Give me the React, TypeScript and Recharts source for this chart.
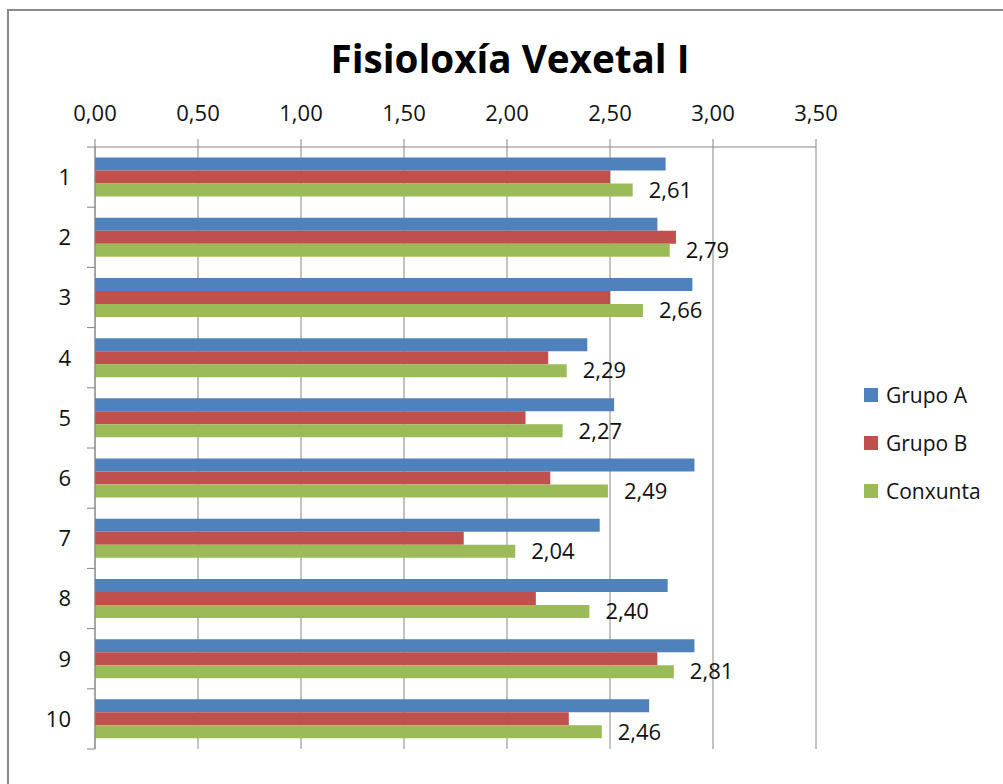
import React from 'react';
import {
  BarChart,
  Bar,
  XAxis,
  YAxis,
  CartesianGrid,
  Legend,
  LabelList,
  Customized,
} from 'recharts';

const categories = ['1', '2', '3', '4', '5', '6', '7', '8', '9', '10'];
const grupoA = [2.77, 2.73, 2.9, 2.39, 2.52, 2.91, 2.45, 2.78, 2.91, 2.69];
const grupoB = [2.5, 2.82, 2.5, 2.2, 2.09, 2.21, 1.79, 2.14, 2.73, 2.3];
const conxunta = [2.61, 2.79, 2.66, 2.29, 2.27, 2.49, 2.04, 2.4, 2.81, 2.46];
const xTicks = [0, 0.5, 1, 1.5, 2, 2.5, 3, 3.5];

const seriesNames = ['Grupo A', 'Grupo B', 'Conxunta'];

const data = categories.map((cat, i) => ({
  cat,
  a: grupoA[i],
  b: grupoB[i],
  c: conxunta[i],
}));

const FONT = '"Open Sans", "Noto Sans", sans-serif';
const AXIS_GREY = '#868686';

const fmt = (v: any) => Number(v).toFixed(2).replace('.', ',');

// category label plus the little tick marks between categories (Excel style)
function CategoryTick(props: any) {
  const { x, y, payload, index } = props;
  const half = payload?.offset ?? 30.1;
  const axisX = x + 24;
  return (
    <g>
      <text
        x={x}
        y={y}
        dy="0.36em"
        textAnchor="end"
        fontSize={22}
        fontFamily={FONT}
        fill="#111"
      >
        {payload.value}
      </text>
      {index === 0 && (
        <line x1={axisX - 8} x2={axisX} y1={y - half} y2={y - half} stroke={AXIS_GREY} />
      )}
      <line x1={axisX - 8} x2={axisX} y1={y + half} y2={y + half} stroke={AXIS_GREY} />
    </g>
  );
}

function LegendBox(props: any) {
  const items = [...(props.payload || [])].sort(
    (p: any, q: any) => seriesNames.indexOf(p.value) - seriesNames.indexOf(q.value)
  );
  return (
    <div style={{ fontFamily: FONT }}>
      {items.map((entry: any) => (
        <div
          key={entry.value}
          style={{ height: 48, display: 'flex', alignItems: 'center' }}
        >
          <span
            style={{
              width: 14,
              height: 14,
              background: entry.color,
              display: 'inline-block',
              marginRight: 8,
            }}
          />
          <span style={{ fontSize: 21, color: '#111' }}>{entry.value}</span>
        </div>
      ))}
    </div>
  );
}

const Title = () => (
  <text
    x={510}
    y={73}
    textAnchor="middle"
    fontSize={39}
    fontWeight="bold"
    fontFamily={FONT}
    fill="#000"
    textLength={359}
    lengthAdjust="spacingAndGlyphs"
  >
    Fisioloxía Vexetal I
  </text>
);

export default function App() {
  return (
    <div
      style={{
        position: 'absolute',
        left: 0,
        top: 0,
        width: 1003,
        height: 784,
        overflow: 'hidden',
        background: '#fff',
      }}
    >
      <div
        style={{
          position: 'absolute',
          left: 7,
          top: 9,
          width: 1020,
          height: 800,
          border: '2px solid #8a8a8a',
          boxShadow: '1px 1px 2px rgba(0,0,0,0.25)',
        }}
      />
      <div style={{ position: 'absolute', left: 0, top: 0 }}>
        <BarChart
          width={1003}
          height={784}
          data={data}
          layout="vertical"
          margin={{ top: 87, right: 187, bottom: 35, left: 0 }}
          barCategoryGap="17.5%"
          barGap={0}
        >
          <CartesianGrid horizontal={false} stroke={AXIS_GREY} />
          <XAxis
            type="number"
            orientation="top"
            domain={[0, 3.5]}
            ticks={xTicks}
            tickFormatter={fmt}
            height={60}
            tickSize={8}
            tickMargin={18}
            axisLine={{ stroke: AXIS_GREY }}
            tickLine={{ stroke: AXIS_GREY }}
            tick={{ fontSize: 22, fontFamily: FONT, fill: '#111' }}
            interval={0}
          />
          <YAxis
            type="category"
            dataKey="cat"
            width={95}
            tickSize={8}
            tickMargin={16}
            tickLine={false}
            axisLine={{ stroke: AXIS_GREY }}
            tick={<CategoryTick />}
            interval={0}
          />
          <Legend
            layout="vertical"
            align="center"
            verticalAlign="middle"
            wrapperStyle={{ left: 864, top: 371, width: 140 }}
            content={<LegendBox />}
          />
          <Bar dataKey="a" name={seriesNames[0]} fill="#4F81BD" isAnimationActive={false} />
          <Bar dataKey="b" name={seriesNames[1]} fill="#C0504D" isAnimationActive={false} />
          <Bar dataKey="c" name={seriesNames[2]} fill="#9BBB59" isAnimationActive={false}>
            <LabelList
              dataKey="c"
              position="right"
              offset={16}
              formatter={fmt}
              fontSize={22}
              fontFamily={FONT}
              fill="#111"
            />
          </Bar>
          <Customized component={Title} />
        </BarChart>
      </div>
    </div>
  );
}
